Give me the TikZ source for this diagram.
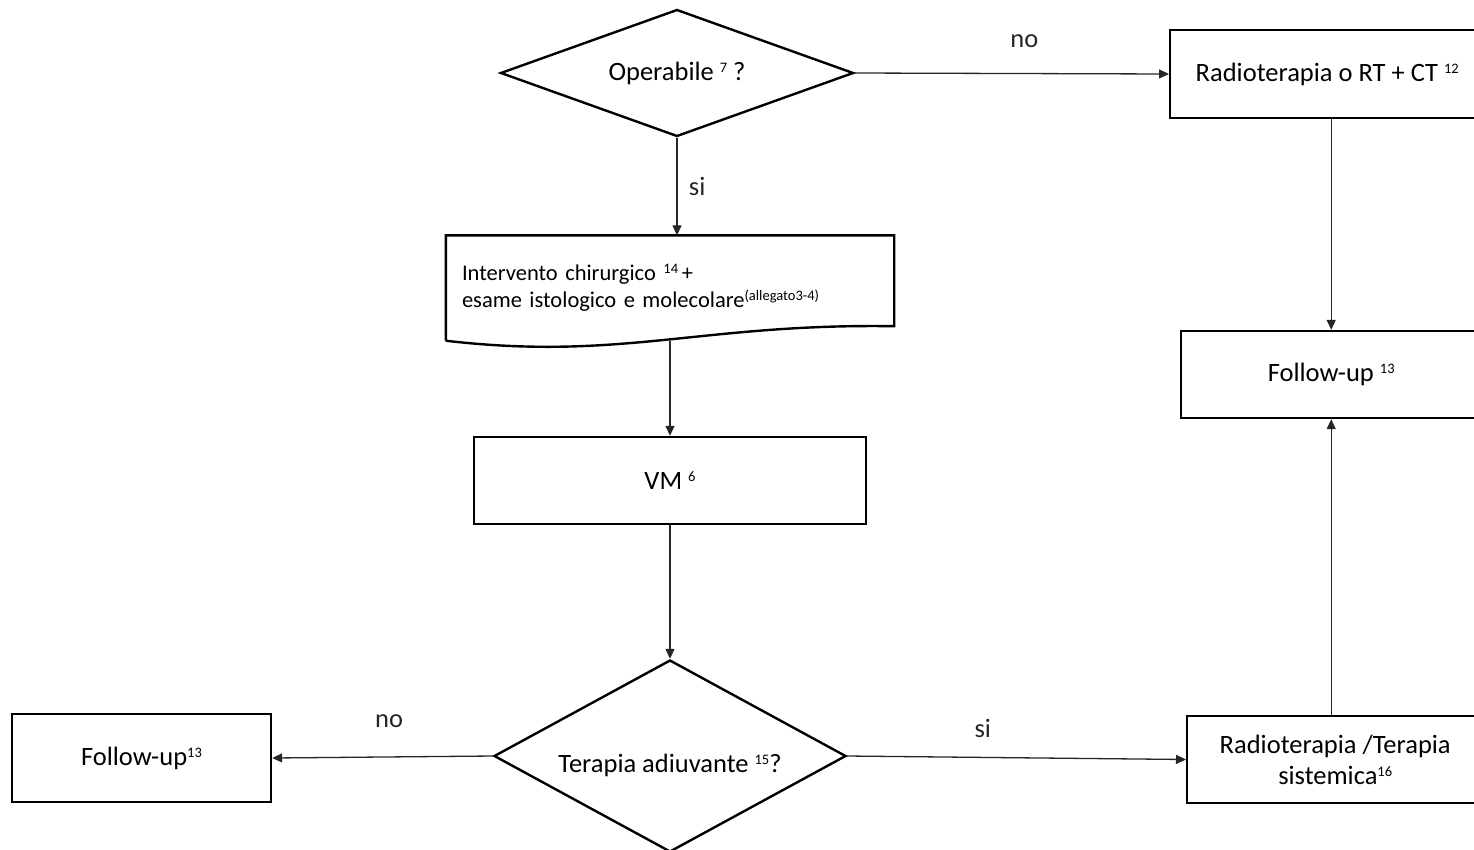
\documentclass[tikz,border=0pt]{standalone}
\usepackage{fontspec}
\setmainfont{Carlito}
\usetikzlibrary{arrows.meta,positioning,shapes.geometric}
\newcommand{\rif}[1]{\raisebox{0.62ex}{\fontsize{14.5}{14.5}\selectfont #1}}

\begin{document}
\begin{tikzpicture}[x=1pt,y=-1pt,
  box/.style={rectangle,draw,line width=2.4pt,minimum width=392pt,minimum height=87pt,align=center,font=\fontsize{26.5}{31}\selectfont},
  dec/.style={diamond,draw,line width=2.4pt,inner sep=0pt,align=center,font=\fontsize{26.5}{31}\selectfont},
  chan/.style={-{Triangle[length=10pt,width=9pt]},line width=1.3pt,black!85},
  lbl/.style={font=\fontsize{26.5}{31}\selectfont}
]
\useasboundingbox (0,0) rectangle (1474,849);
\clip (0,0) rectangle (1474,849);
\node[dec,aspect=2.78,minimum width=353pt,minimum height=127pt] (op) at (677,73) {Operabile \rif{7} ?};
\node[box,anchor=west,minimum width=314pt,minimum height=88pt] (rt) at (1169,74) {Radioterapia o RT + CT \rif{12}};
\node[box,draw=none,align=left,text width=416pt,inner xsep=15pt,minimum height=103pt,font=\fontsize{22.5}{27}\selectfont] (int) at (670,288)
  {Intervento chirurgico \rif{14}\,+\\esame istologico e molecolare\rif{(allegato3-4)}};
\draw[line width=2.4pt] (int.south west) |- (int.north east) -- ([yshift=14.5pt]int.south east)
  .. controls ([xshift=-193pt,yshift=17.5pt]int.south east) and ([xshift=-273pt,yshift=-20.5pt]int.south east) .. (int.south west);
\node[box] (vm) at (670,480.5) {VM \rif{6}};
\node[dec,aspect=1.83,minimum width=352pt,minimum height=192pt] (adj) at (670,756) {\\[6pt]Terapia adiuvante \rif{15}?};
\node[box,minimum width=259pt,minimum height=88pt] (fl) at (141.5,758) {Follow-up\rif{13}};
\node[box,anchor=west,minimum width=296pt] (rs) at (1186,759.5) {Radioterapia /Terapia\\sistemica\rif{16}};
\node[box,anchor=west,minimum width=300pt] (fr) at (1180,374.5) {Follow-up \rif{13}};
\draw[chan] (op.east) -- (rt.west) node[lbl,pos=0.54,above=22pt]{no};
\draw[chan] (op.south) -- (op.south |- int.north) node[lbl,midway,right=8pt]{si};
\draw[chan] (int.south) -- (vm.north);
\draw[chan] (vm.south) -- (adj.north);
\draw[chan] (adj.west) -- (fl.east) node[lbl,pos=0.47,above=25pt]{no};
\draw[chan] (adj.east) -- (rs.west) node[lbl,pos=0.4,above=16pt]{si};
\draw[chan] (fr.north |- rt.south) -- (fr.north);
\draw[chan] (fr.south |- rs.north) -- (fr.south);
\end{tikzpicture}
\end{document}
